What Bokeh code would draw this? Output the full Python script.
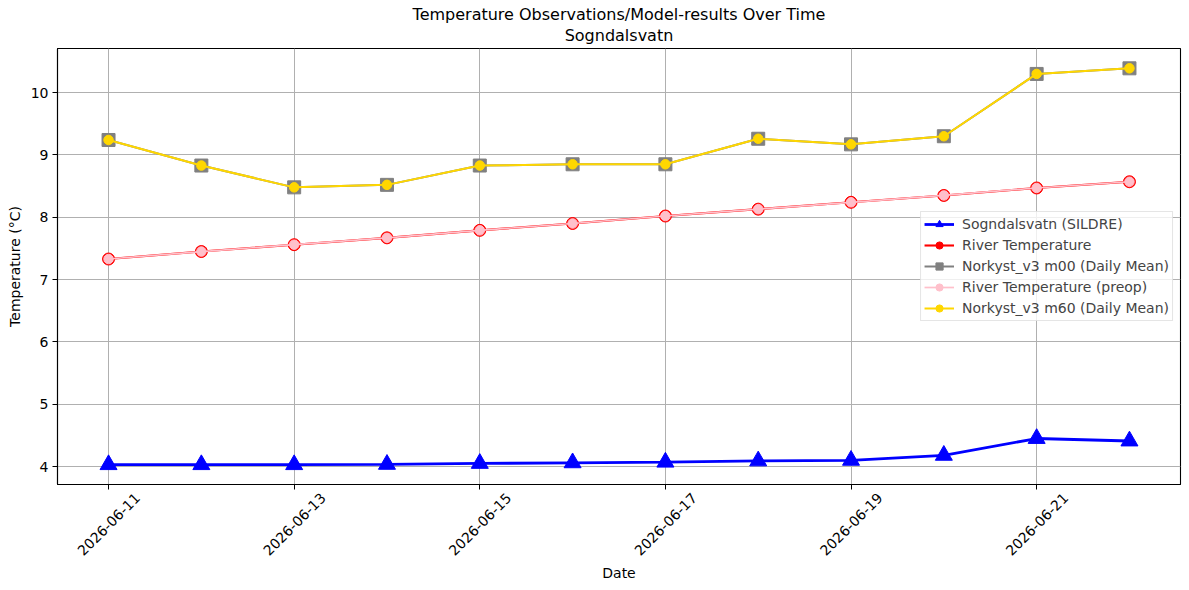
import pandas as pd
from bokeh.plotting import figure
from bokeh.models import (Range1d, FixedTicker, Title, DatetimeAxis, DatetimeTickFormatter,
                          CustomJSTickFormatter)
from bokeh.embed import file_html
from bokeh.resources import INLINE
from math import pi

# ---- data ----
dates = ["2026-06-11", "2026-06-12", "2026-06-13", "2026-06-14", "2026-06-15", "2026-06-16",
         "2026-06-17", "2026-06-18", "2026-06-19", "2026-06-20", "2026-06-21", "2026-06-22"]
sildre = [4.03, 4.03, 4.03, 4.035, 4.05, 4.06, 4.07, 4.09, 4.10, 4.18, 4.45, 4.41]
river_temp = [7.33, 7.45, 7.56, 7.67, 7.79, 7.90, 8.02, 8.13, 8.24, 8.35, 8.47, 8.57]
river_temp_preop = [7.33, 7.45, 7.56, 7.67, 7.79, 7.90, 8.02, 8.13, 8.24, 8.35, 8.47, 8.57]
norkyst_m00 = [9.24, 8.83, 8.48, 8.52, 8.83, 8.85, 8.85, 9.26, 9.17, 9.30, 10.30, 10.39]
norkyst_m60 = [9.24, 8.83, 8.48, 8.52, 8.83, 8.85, 8.85, 9.26, 9.17, 9.30, 10.30, 10.39]
x_tick_labels = ["2026-06-11", "2026-06-13", "2026-06-15", "2026-06-17", "2026-06-19", "2026-06-21"]
y_ticks = [4, 5, 6, 7, 8, 9, 10]
title_lines = ["Temperature Observations/Model-results Over Time", "Sogndalsvatn"]

x = pd.to_datetime(dates)

FONT = "DejaVu Sans"
W, H = 1189, 590
ML, MR, MT, MB = 57, 9, 48, 106

# ranges with 5% padding like matplotlib
span = x.max() - x.min()
xpad = span * 0.05
allv = sildre + river_temp + river_temp_preop + norkyst_m00 + norkyst_m60
vmin, vmax = min(allv), max(allv)
ypad = (vmax - vmin) * 0.05
x0, x1 = x.min() - xpad, x.max() + xpad

p = figure(width=W, height=H, x_axis_type="datetime",
           x_range=Range1d(x0, x1),
           y_range=Range1d(vmin - ypad, vmax + ypad),
           output_backend="svg", toolbar_location=None,
           min_border_left=ML, min_border_right=MR, min_border_top=MT, min_border_bottom=MB)
p.title = None

p.add_layout(Title(text=title_lines[1], align="center", text_font=FONT, text_font_size="16px",
                   text_font_style="normal", text_color="black", standoff=8), "above")
p.add_layout(Title(text=title_lines[0], align="center", text_font=FONT, text_font_size="16px",
                   text_font_style="normal", text_color="black", standoff=-8), "above")

# series
p.line(x, sildre, color="blue", line_width=2.8, legend_label="Sogndalsvatn (SILDRE)")
p.scatter(x, sildre, marker="triangle", size=17, color="blue", legend_label="Sogndalsvatn (SILDRE)")

p.line(x, river_temp, color="red", line_width=2.1, legend_label="River Temperature")
p.scatter(x, river_temp, marker="circle", size=12, color="red", legend_label="River Temperature")

p.line(x, norkyst_m00, color="gray", line_width=2, legend_label="Norkyst_v3 m00 (Daily Mean)")
p.scatter(x, norkyst_m00, marker="square", size=13, color="gray", legend_label="Norkyst_v3 m00 (Daily Mean)")

p.line(x, river_temp_preop, color="pink", line_width=1.7, legend_label="River Temperature (preop)")
p.scatter(x, river_temp_preop, marker="circle", size=9.5, color="pink", legend_label="River Temperature (preop)")

p.line(x, norkyst_m60, color="gold", line_width=2, legend_label="Norkyst_v3 m60 (Daily Mean)")
p.scatter(x, norkyst_m60, marker="circle", size=9.5, color="gold", legend_label="Norkyst_v3 m60 (Daily Mean)")

# axes
tick_ms = [pd.Timestamp(t).value // 10**6 for t in x_tick_labels]
p.xaxis.ticker = FixedTicker(ticks=tick_ms)
p.yaxis.ticker = FixedTicker(ticks=y_ticks)
p.yaxis.axis_label = "Temperature (°C)"

# label-only axis on a range shifted so rotated labels sit centred under the ticks
shift = pd.Timedelta(hours=7.5)
p.extra_x_ranges = {"lab": Range1d(x0 - shift, x1 - shift)}
lab_ax = DatetimeAxis(x_range_name="lab", ticker=FixedTicker(ticks=tick_ms),
                      formatter=DatetimeTickFormatter(days="%Y-%m-%d", months="%Y-%m-%d",
                                                      hours="%Y-%m-%d"),
                      major_label_orientation=pi / 4, axis_label="Date")
lab_ax.axis_line_color = None
lab_ax.major_tick_line_color = None
lab_ax.minor_tick_line_color = None
lab_ax.major_tick_out = 0
lab_ax.major_tick_in = 0
p.add_layout(lab_ax, "below")

main_x = p.xaxis[0]
main_x.formatter = CustomJSTickFormatter(code="return ''")

for ax in (main_x, lab_ax, p.yaxis[0]):
    ax.axis_label_text_font = FONT
    ax.axis_label_text_font_size = "14px"
    ax.axis_label_text_font_style = "normal"
    ax.axis_label_text_color = "black"
    ax.major_label_text_font = FONT
    ax.major_label_text_font_size = "14px"
    ax.major_label_text_color = "black"
    ax.minor_tick_line_color = None
    ax.major_label_standoff = 4
for ax in (main_x, p.yaxis[0]):
    ax.axis_line_color = "black"
    ax.axis_line_width = 1.1
    ax.major_tick_line_color = "black"
    ax.major_tick_out = 5
    ax.major_tick_in = 0
p.yaxis.axis_label_standoff = 5
main_x.major_label_standoff = 0
lab_ax.major_label_standoff = 6
lab_ax.axis_label_standoff = 2

p.outline_line_color = "black"
p.outline_line_width = 1.1
p.grid.grid_line_color = "#b0b0b0"
p.grid.grid_line_width = 1
p.background_fill_color = "white"
p.border_fill_color = "white"

lg = p.legend[0]
lg.location = "center_right"
lg.margin = 7
lg.label_text_font = FONT
lg.label_text_font_size = "14px"
lg.glyph_width = 30
lg.glyph_height = 18
lg.label_height = 18
lg.spacing = 3
lg.padding = 3
lg.label_standoff = 8
lg.border_line_color = "#cccccc"
lg.background_fill_alpha = 0.8

open("out.html", "w").write(file_html(p, INLINE))
